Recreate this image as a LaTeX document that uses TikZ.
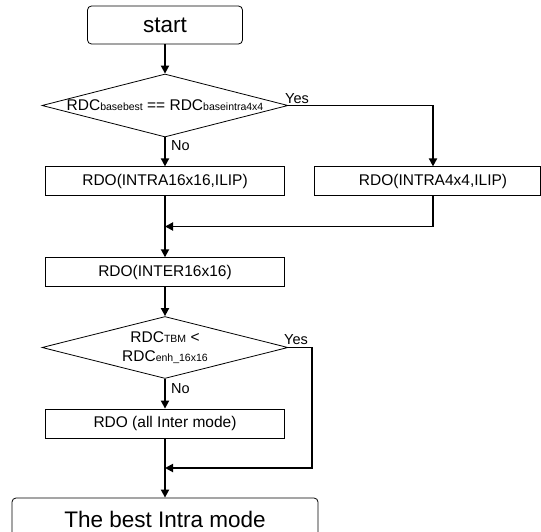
\documentclass[tikz,border=0pt]{standalone}
\usepackage{fontspec}
\setmainfont{Liberation Sans}
\usetikzlibrary{shapes.geometric,arrows.meta}
\newcommand{\subtxt}[1]{{\fontsize{10.5}{12}\selectfont #1}}

\begin{document}
\begin{tikzpicture}[x=1pt, y=-1pt, font=\fontsize{15.5}{18}\selectfont,
    box/.style={draw, line width=0.8pt, minimum width=239pt, minimum height=29pt, inner sep=0pt},
    term/.style={draw, line width=0.8pt, rounded corners=4pt, inner sep=0pt, font=\fontsize{22.5}{26}\selectfont},
    dec/.style={draw, diamond, line width=0.8pt, minimum width=246pt, minimum height=63pt, inner sep=0pt},
    dectxt/.style={inner sep=0pt, align=center, font=\fontsize{15.5}{19}\selectfont},
    lbl/.style={inner sep=0pt, font=\fontsize{14.5}{17}\selectfont},
    flow/.style={line width=1.8pt, -{Triangle[length=8pt, width=8pt]}}]
    \useasboundingbox (0,0) rectangle (541,532);

    \node (start) [term, minimum width=155pt, minimum height=38pt] at (165,25) {start};
    \node (d1) [dec] at (165,105.5) {};
    \node (d1txt) [dectxt] at (d1) {RDC\subtxt{basebest} == RDC\subtxt{baseintra4x4}};
    \node (intra16) [box] at (165,181.3) {RDO(INTRA16x16,ILIP)};
    \node (intra4) [box, minimum width=226pt] at (427,181.3) {\hspace*{12pt}RDO(INTRA4x4,ILIP)};
    \node (inter16) [box] at (165,272.2) {RDO(INTER16x16)};
    \node (d2) [dec, minimum height=62pt] at (165,347.5) {};
    \node (d2txt) [dectxt] at (d2) {RDC\subtxt{TBM} <\\RDC\subtxt{enh\_16x16}};
    \node (allinter) [box] at (165,423.5) {RDO (all Inter mode)};
    \node (best) [term, minimum width=306pt, minimum height=42pt] at (165,519) {The best Intra mode};

    \node (yes1) [lbl, anchor=south west] at (285,104) {Yes};
    \node (no1) [lbl, anchor=north west] at (171,140.5) {No};
    \node (yes2) [lbl, anchor=south west] at (284,344.5) {Yes};
    \node (no2) [lbl, anchor=north west] at (171,383.5) {No};

    \coordinate (c1) at (433,105.5);
    \coordinate (m1) at (165,226.5);
    \coordinate (c2) at (312,347.5);
    \coordinate (m2) at (165,468);

    \draw[flow] (start) -- (d1);
    \draw[flow] (d1) -- (intra16);
    \draw[flow] (d1.east) -- (c1) -- (c1 |- intra4.north);
    \draw[flow] (intra16) -- (inter16);
    \draw[flow] (c1 |- intra4.south) -- (c1 |- m1) -- (m1);
    \draw[flow] (inter16) -- (d2);
    \draw[flow] (d2) -- (allinter);
    \draw[flow] (d2.east) -- (c2) -- (c2 |- m2) -- (m2);
    \draw[flow] (allinter) -- (best);
\end{tikzpicture}
\end{document}
